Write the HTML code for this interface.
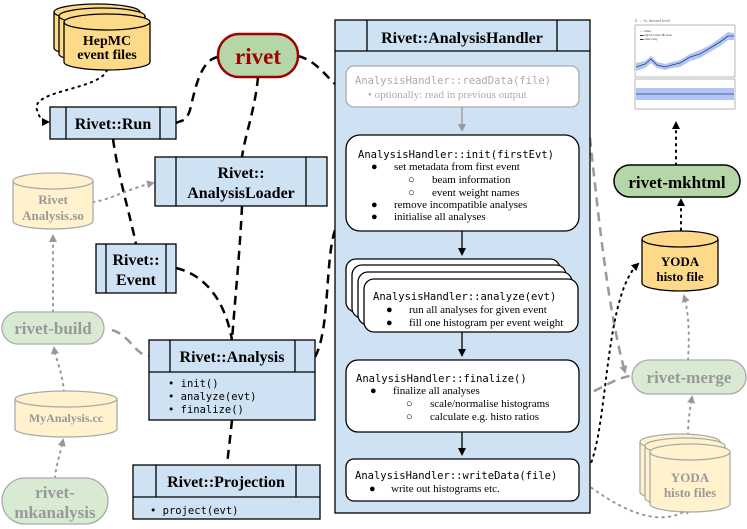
<!DOCTYPE html>
<html><head><meta charset="utf-8"><style>
html,body{margin:0;padding:0;background:#fff;}
svg{display:block;}
.s{font-family:"Liberation Serif",serif;}
.m{font-family:"DejaVu Sans Mono","Liberation Mono",monospace;}
</style></head><body>
<svg width="747" height="529" viewBox="0 0 747 529" xmlns="http://www.w3.org/2000/svg">
<defs>
<marker id="ab" markerWidth="8" markerHeight="8" refX="6" refY="4" orient="auto" markerUnits="userSpaceOnUse"><path d="M0,0 L8,4 L0,8 z" fill="#000"/></marker>
<marker id="ag" markerWidth="8" markerHeight="8" refX="6" refY="4" orient="auto" markerUnits="userSpaceOnUse"><path d="M0,0 L8,4 L0,8 z" fill="#999"/></marker>
</defs>

<!-- connectors black dashed -->
<g fill="none" stroke="#000" stroke-width="2.5" stroke-dasharray="9,6">
<path d="M218,57 C200,60 195,90 190,110 C186,122 182,120 176,123"/>
<path d="M258,77 C255,110 245,135 242,157"/>
<path d="M298,56 C315,60 325,75 335,84"/>
<path d="M113,139 C118,175 130,215 136,244"/>
<path d="M242,206 C240,250 235,300 232,340"/>
<path d="M176,268 C205,275 225,300 232,340"/>
<path d="M315,357 C330,330 325,260 335,230"/>
<path d="M232,420 C230,440 228,455 227,465"/>
</g>
<!-- gray dashed -->
<g fill="none" stroke="#999" stroke-width="2.5" stroke-dasharray="9,6">
<path d="M112,330 C130,335 135,355 149,356"/>
<path d="M585,93 C595,180 605,300 625,372" marker-end="url(#ag)"/>
<path d="M580,397 C600,390 615,378 630,376"/>
</g>
<!-- black dotted -->
<g fill="none" stroke="#000" stroke-width="2" stroke-dasharray="1.5,5" stroke-linecap="round">
<path d="M107,70 C100,90 30,90 37,110 C40,120 44,122 48,122" marker-end="url(#ab)"/>
<path d="M581,478 C610,460 600,300 638,264" marker-end="url(#ab)"/>
<path d="M681,230 L681,200" marker-end="url(#ab)"/>
<path d="M676,165 L676,123" marker-end="url(#ab)"/>
</g>
<!-- gray dotted -->
<g fill="none" stroke="#999" stroke-width="2" stroke-dasharray="1.5,5" stroke-linecap="round">
<path d="M93,202 C110,200 130,188 153,183" marker-end="url(#ag)"/>
<path d="M53,312 L53,236" marker-end="url(#ag)"/>
<path d="M64,392 C62,370 56,360 54,348" marker-end="url(#ag)"/>
<path d="M55,478 C56,465 60,455 63,440" marker-end="url(#ag)"/>
<path d="M581,480 C620,510 660,530 690,508" marker-end="url(#ag)"/>
<path d="M688,435 C688,420 690,410 692,397" marker-end="url(#ag)"/>
<path d="M688,360 C690,330 688,310 684,296" marker-end="url(#ag)"/>
</g>

<!-- HepMC stacked cylinders -->
<g stroke="#000" stroke-width="1.3" fill="#fdd98a">
<path d="M54,12 v36 a43,8 0 0 0 86,0 v-36"/><ellipse cx="97" cy="12" rx="43" ry="8"/>
<path d="M59,16 v38 a43,8 0 0 0 86,0 v-38"/><ellipse cx="102" cy="16" rx="43" ry="8"/>
<path d="M64,22 v40 a43,8 0 0 0 86,0 v-40"/><ellipse cx="107" cy="22" rx="43" ry="8"/>
</g>
<text x="107" y="45" class="s" font-size="14" font-weight="bold" text-anchor="middle">HepMC</text>
<text x="107" y="59" class="s" font-size="14" font-weight="bold" text-anchor="middle">event files</text>

<!-- rivet pill -->
<rect x="218" y="34" width="80" height="43" rx="21" fill="#b5d7a8" stroke="#a00000" stroke-width="2.5"/>
<text x="258" y="64" class="s" font-size="23" font-weight="bold" fill="#a00000" text-anchor="middle">rivet</text>

<!-- class boxes -->
<g stroke="#000" stroke-width="1.3" fill="#cfe2f3">
<rect x="50" y="107" width="126" height="32"/><line x1="66" y1="107" x2="66" y2="139"/><line x1="160" y1="107" x2="160" y2="139"/>
<rect x="155" y="157" width="172" height="49"/><line x1="176" y1="157" x2="176" y2="206"/><line x1="306" y1="157" x2="306" y2="206"/>
<rect x="96" y="244" width="80" height="49"/><line x1="106" y1="244" x2="106" y2="293"/><line x1="166" y1="244" x2="166" y2="293"/>
<rect x="149" y="340" width="166" height="80"/><line x1="149" y1="372" x2="315" y2="372"/><line x1="170" y1="340" x2="170" y2="372"/><line x1="295" y1="340" x2="295" y2="372"/>
<rect x="133" y="465" width="187" height="54"/><line x1="133" y1="497" x2="320" y2="497"/><line x1="156" y1="465" x2="156" y2="497"/><line x1="296" y1="465" x2="296" y2="497"/>
</g>
<g class="s" font-size="16" font-weight="bold" text-anchor="middle">
<text x="113" y="129">Rivet::Run</text>
<text x="241" y="178">Rivet::</text><text x="241" y="198">AnalysisLoader</text>
<text x="136" y="265">Rivet::</text><text x="136" y="285">Event</text>
<text x="232" y="362">Rivet::Analysis</text>
<text x="226" y="487">Rivet::Projection</text>
</g>
<g class="m" font-size="10.5">
<text x="168" y="387">•  init()</text>
<text x="168" y="400">•  analyze(evt)</text>
<text x="168" y="413">•  finalize()</text>
<text x="150" y="514">•  project(evt)</text>
</g>

<!-- faded tools -->
<g stroke="#aaa" stroke-width="1.3" fill="#fff2cc">
<path d="M13,181 v40 a40,8 0 0 0 80,0 v-40"/><ellipse cx="53" cy="181" rx="40" ry="8"/>
<path d="M15,399 v30 a51,8 0 0 0 102,0 v-30"/><ellipse cx="66" cy="399" rx="51" ry="8"/>
<path d="M640,442 v50 a40,8 0 0 0 80,0 v-50"/><ellipse cx="680" cy="442" rx="40" ry="8"/>
<path d="M645,446 v52 a40,8 0 0 0 80,0 v-52"/><ellipse cx="685" cy="446" rx="40" ry="8"/>
<path d="M650,452 v52 a40,8 0 0 0 80,0 v-52"/><ellipse cx="690" cy="452" rx="40" ry="8"/>
</g>
<g stroke="#aaa" stroke-width="1.3" fill="#d9ead3">
<rect x="2" y="312" width="102" height="32" rx="16"/>
<rect x="2" y="478" width="106" height="46" rx="23"/>
<rect x="632" y="360" width="114" height="34" rx="17"/>
</g>
<g class="s" font-weight="bold" fill="#999" text-anchor="middle">
<text x="53" y="204" font-size="13">Rivet</text><text x="53" y="220" font-size="13">Analysis.so</text>
<text x="53" y="334" font-size="17">rivet-build</text>
<text x="66" y="422" font-size="12">MyAnalysis.cc</text>
<text x="55" y="498" font-size="17">rivet-</text><text x="55" y="518" font-size="17">mkanalysis</text>
<text x="689" y="383" font-size="17">rivet-merge</text>
<text x="690" y="482" font-size="13">YODA</text><text x="690" y="497" font-size="13">histo files</text>
</g>

<!-- Analysis handler -->
<g stroke="#000" stroke-width="1.3" fill="#cfe2f3">
<rect x="335" y="20" width="255" height="493"/><line x1="335" y1="51" x2="590" y2="51"/>
<line x1="367" y1="20" x2="367" y2="51"/><line x1="557" y1="20" x2="557" y2="51"/>
</g>
<text x="462" y="43" class="s" font-size="16" font-weight="bold" text-anchor="middle">Rivet::AnalysisHandler</text>
<rect x="346" y="66" width="233" height="41" rx="8" fill="#fff" stroke="#aaa" stroke-width="1.3"/>
<text x="355" y="84" class="m" font-size="10.5" fill="#aaa">AnalysisHandler::readData(file)</text>
<text x="368" y="98" class="s" font-size="11" fill="#aaa">•      optionally: read in previous output</text>
<line x1="462" y1="107" x2="462" y2="130" stroke="#999" stroke-width="1.3" marker-end="url(#ag)"/>
<g stroke="#000" stroke-width="1.3" fill="#fff">
<rect x="346" y="135" width="233" height="96" rx="14"/>
<rect x="346" y="259" width="214" height="53" rx="10"/>
<rect x="352" y="265" width="214" height="53" rx="10"/>
<rect x="358" y="272" width="214" height="53" rx="10"/>
<rect x="364" y="279" width="214" height="53" rx="10"/>
<rect x="346" y="360" width="233" height="72" rx="12"/>
<rect x="346" y="459" width="233" height="42" rx="8"/>
</g>
<g stroke="#000" stroke-width="1.3" fill="none">
<line x1="462" y1="231" x2="462" y2="254" marker-end="url(#ab)"/>
<line x1="462" y1="332" x2="462" y2="355" marker-end="url(#ab)"/>
<line x1="462" y1="432" x2="462" y2="454" marker-end="url(#ab)"/>
</g>
<g class="m" font-size="10.5">
<text x="358" y="158">AnalysisHandler::init(firstEvt)</text>
<text x="373" y="300">AnalysisHandler::analyze(evt)</text>
<text x="356" y="382">AnalysisHandler::finalize()</text>
<text x="355" y="479">AnalysisHandler::writeData(file)</text>
</g>
<g class="s" font-size="11">
<text x="371" y="170">●</text><text x="394" y="170">set metadata from first event</text>
<text x="408" y="183">○</text><text x="432" y="183">beam information</text>
<text x="408" y="196">○</text><text x="432" y="196">event weight names</text>
<text x="371" y="208">●</text><text x="394" y="208">remove incompatible analyses</text>
<text x="371" y="220">●</text><text x="394" y="220">initialise all analyses</text>
<text x="386" y="313">●</text><text x="409" y="313">run all analyses for given event</text>
<text x="386" y="326">●</text><text x="409" y="326">fill one histogram per event weight</text>
<text x="370" y="394">●</text><text x="393" y="394">finalize all analyses</text>
<text x="406" y="407">○</text><text x="430" y="407">scale/normalise histograms</text>
<text x="406" y="420">○</text><text x="430" y="420">calculate e.g. histo ratios</text>
<text x="369" y="492">●</text><text x="391" y="492">write out histograms etc.</text>
</g>

<!-- right side -->
<g stroke="#000" stroke-width="1.3" fill="#ffd98a">
<path d="M642,239 v44 a38,8 0 0 0 76,0 v-44"/><ellipse cx="680" cy="239" rx="38" ry="8"/>
</g>
<text x="680" y="266" class="s" font-size="13" font-weight="bold" text-anchor="middle">YODA</text>
<text x="680" y="281" class="s" font-size="13" font-weight="bold" text-anchor="middle">histo file</text>
<rect x="614" y="165" width="126" height="32" rx="16" fill="#b5d7a8" stroke="#000" stroke-width="1.5"/>
<text x="677" y="188" class="s" font-size="17" font-weight="bold" text-anchor="middle">rivet-mkhtml</text>

<!-- plot -->
<g>
<text x="635" y="22" font-size="4" fill="#666" class="s">Z → ν̄ν, dressed level</text>
<rect x="635" y="25" width="100" height="52" fill="none" stroke="#888" stroke-width="0.6"/>
<rect x="635" y="79" width="100" height="30" fill="none" stroke="#888" stroke-width="0.6"/>
<path d="M636,63 L645,61 L651,56 L657,62 L665,64 L672,62 L680,60 L690,54 L700,50 L710,45 L720,38 L728,32 L734,33 L734,40 L728,40 L720,46 L710,52 L700,58 L690,61 L680,67 L672,68 L665,70 L657,68 L651,63 L645,68 L636,71 z" fill="#9cb6f0" opacity="0.8"/>
<path d="M636,67 L645,64 L651,59 L657,65 L665,67 L672,65 L680,63 L690,57 L700,54 L710,48 L720,42 L728,36 L734,36" fill="none" stroke="#2a3d7a" stroke-width="0.8"/>
<rect x="636" y="88" width="98" height="12" fill="#9cb6f0" opacity="0.8"/>
<line x1="636" y1="94" x2="734" y2="94" stroke="#2a3d7a" stroke-width="0.8"/>
<text x="640" y="32" font-size="3.5" fill="#333">— Data</text>
<text x="640" y="36" font-size="3.5" fill="#333">▬ QCD scales ⊕ stats</text>
<text x="640" y="40" font-size="3.5" fill="#333">▬ stats only</text>
</g>
</svg>
</body></html>
